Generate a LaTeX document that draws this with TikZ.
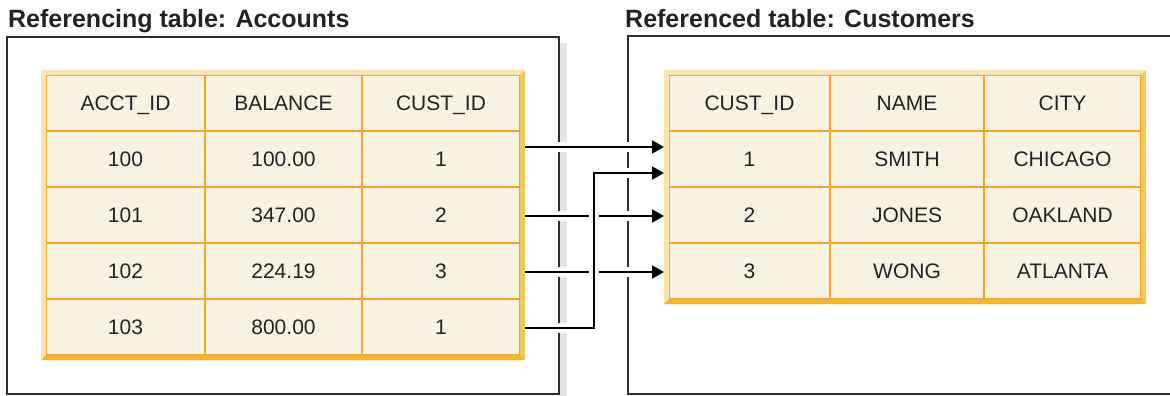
\documentclass[tikz,border=0pt]{standalone}
\usepackage{fontspec}
\setmainfont{Liberation Sans}
\usetikzlibrary{arrows.meta,calc}
\definecolor{cell_fill}{RGB}{248,242,225}
\definecolor{grid_orange}{RGB}{245,166,35}
\definecolor{bevel_light}{RGB}{250,228,176}
\definecolor{bevel_right}{RGB}{246,200,92}
\definecolor{bevel_bottom}{RGB}{245,180,42}
\definecolor{frame_gray}{RGB}{45,45,45}
\definecolor{shadow_gray}{RGB}{228,228,228}
\definecolor{text_dark}{RGB}{35,35,35}

\begin{document}
\begin{tikzpicture}[x=1pt,y=-1pt,>={Triangle[length=12pt,width=13pt]}]
    \tikzstyle{tcell}=[draw=grid_orange, line width=2pt, fill=cell_fill, inner sep=0pt, outer sep=0pt, minimum height=56pt, text height=15pt, text depth=0pt, text=text_dark, font=\fontsize{21}{25}\selectfont]
    \tikzstyle{title}=[anchor=base west, inner sep=0pt, text=text_dark, font=\fontsize{25}{30}\selectfont\bfseries]
    \tikzstyle{frame}=[draw=frame_gray, line width=1.8pt]
    \tikzstyle{link}=[->, line width=2pt, draw=black]
    \tikzstyle{halo}=[draw=white, line width=10pt]

    \useasboundingbox (0,0) rectangle (1170,396);

    % the two boxes
    \fill[shadow_gray] (560,43) rectangle (567,396);
    \draw[frame] (7,37) rectangle (559,394);
    \draw[frame] (1172,36) -- (628,36) -- (628,394) -- (1172,394);
    \node[title] (ttl) at (8,28)   {Referencing table: Accounts};
    \node[title] (ttr) at (625,28) {Referenced table: Customers};

    % Accounts
    \node[tcell, minimum width=159pt] (l01) at (125.5,103) {ACCT\_ID};
    \node[tcell, minimum width=157pt] (l02) at (283.5,103) {BALANCE};
    \node[tcell, minimum width=158pt] (l03) at (441,103)   {CUST\_ID};
    \node[tcell, minimum width=159pt] (l11) at (125.5,159) {100};
    \node[tcell, minimum width=157pt] (l12) at (283.5,159) {100.00};
    \node[tcell, minimum width=158pt] (l13) at (441,159)   {1};
    \node[tcell, minimum width=159pt] (l21) at (125.5,215) {101};
    \node[tcell, minimum width=157pt] (l22) at (283.5,215) {347.00};
    \node[tcell, minimum width=158pt] (l23) at (441,215)   {2};
    \node[tcell, minimum width=159pt] (l31) at (125.5,271) {102};
    \node[tcell, minimum width=157pt] (l32) at (283.5,271) {224.19};
    \node[tcell, minimum width=158pt] (l33) at (441,271)   {3};
    \node[tcell, minimum width=159pt] (l41) at (125.5,327) {103};
    \node[tcell, minimum width=157pt] (l42) at (283.5,327) {800.00};
    \node[tcell, minimum width=158pt] (l43) at (441,327)   {1};
    \fill[bevel_light] (41,70) -- (525,70) -- (520,75) -- (46,75) -- cycle;
    \fill[bevel_light] (41,70) -- (46,75) -- (46,355) -- (41,360) -- cycle;
    \fill[bevel_right] (525,70) -- (525,360) -- (520,355) -- (520,75) -- cycle;
    \fill[bevel_bottom] (41,360) -- (46,355) -- (520,355) -- (525,360) -- cycle;

    % Customers
    \node[tcell, minimum width=161pt] (r01) at (749.5,103)  {CUST\_ID};
    \node[tcell, minimum width=154pt] (r02) at (907,103)    {NAME};
    \node[tcell, minimum width=157pt] (r03) at (1062.5,103) {CITY};
    \node[tcell, minimum width=161pt] (r11) at (749.5,159)  {1};
    \node[tcell, minimum width=154pt] (r12) at (907,159)    {SMITH};
    \node[tcell, minimum width=157pt] (r13) at (1062.5,159) {CHICAGO};
    \node[tcell, minimum width=161pt] (r21) at (749.5,215)  {2};
    \node[tcell, minimum width=154pt] (r22) at (907,215)    {JONES};
    \node[tcell, minimum width=157pt] (r23) at (1062.5,215) {OAKLAND};
    \node[tcell, minimum width=161pt] (r31) at (749.5,271)  {3};
    \node[tcell, minimum width=154pt] (r32) at (907,271)    {WONG};
    \node[tcell, minimum width=157pt] (r33) at (1062.5,271) {ATLANTA};
    \fill[bevel_light] (664,70) -- (1146,70) -- (1141,75) -- (669,75) -- cycle;
    \fill[bevel_light] (664,70) -- (669,75) -- (669,299) -- (664,304) -- cycle;
    \fill[bevel_right] (1146,70) -- (1146,304) -- (1141,299) -- (1141,75) -- cycle;
    \fill[bevel_bottom] (664,304) -- (669,299) -- (1141,299) -- (1146,304) -- cycle;

    % links
    \draw[halo] ($(l13.east)+(5,-12)$) -- ($(r11.west)+(-5,-12)$)
                ($(l23.east)+(5,1)$) -- ($(r21.west)+(-5,1)$)
                ($(l33.east)+(5,1)$) -- ($(r31.west)+(-5,1)$);
    \path
     ($(l13.east)+(5,-12)$) edge[link] ($(r11.west)+(-5,-12)$)
     ($(l23.east)+(5,1)$) edge[link] ($(r21.west)+(-5,1)$)
     ($(l33.east)+(5,1)$) edge[link] ($(r31.west)+(-5,1)$)
     ;
    \draw[halo] ($(l43.east)+(5,1)$) -- ++(69,0) |- ($(r11.west)+(-5,14)$);
    \draw[link] ($(l43.east)+(5,1)$) -- ++(69,0) |- ($(r11.west)+(-5,14)$);
\end{tikzpicture}
\end{document}
